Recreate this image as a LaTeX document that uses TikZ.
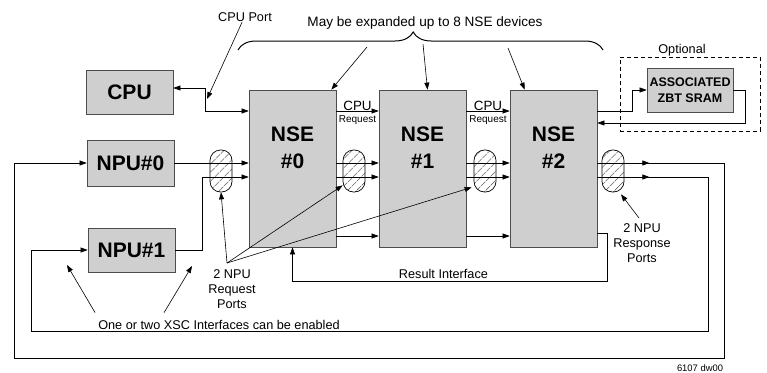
\documentclass[tikz,border=0pt]{standalone}
\usepackage{fontspec}
\setmainfont{Liberation Sans}
\usetikzlibrary{arrows.meta,calc,positioning,patterns.meta,decorations.pathreplacing}

\tikzset{
  unitbox/.style={draw=black!70, fill=black!19, line width=0.7pt, inner sep=0pt,
    font=\fontsize{21}{24}\selectfont\bfseries},
  nsetext/.style={inner sep=0pt, align=center, font=\fontsize{21}{27}\selectfont\bfseries},
  sramblock/.style={unitbox, align=center, font=\fontsize{12.5}{16}\selectfont\bfseries},
  optbox/.style={draw, dashed, line width=0.6pt, dash pattern=on 4pt off 3pt},
  portring/.style={draw, line width=0.7pt, rounded corners=10.5pt, minimum width=22pt,
    minimum height=42pt, pattern={Lines[angle=45,distance=6.5pt,line width=0.7pt]}},
  lbl/.style={inner sep=0pt, font=\fontsize{12.7}{15}\selectfont},
  sublbl/.style={inner sep=0pt, font=\fontsize{10}{12}\selectfont},
  wire/.style={line width=0.6pt},
  >={Triangle[length=7pt,width=5pt]}
}

\begin{document}
\begin{tikzpicture}[x=1pt,y=-1pt]
\useasboundingbox (0,0) rectangle (767,372);

% processors
\node [unitbox, minimum width=87pt, minimum height=44pt] (cpu)  at (129.5,92)  {CPU};
\node [unitbox, minimum width=87pt, minimum height=46pt] (npu0) at (130.5,163) {NPU\#0};
\node [unitbox, minimum width=87pt, minimum height=44pt] (npu1) at (131.5,250) {NPU\#1};

% search engines
\node [unitbox, minimum width=87pt, minimum height=157pt] (nse0) at (292.5,168.5) {};
\node [unitbox, minimum width=87pt, minimum height=157pt] (nse1) at (422.5,168.5) {};
\node [unitbox, minimum width=87pt, minimum height=157pt] (nse2) at (553.5,168.5) {};
\node [nsetext] (nse0t) at ($(nse0.north)+(0,58)$) {NSE\\\#0};
\node [nsetext] (nse1t) at ($(nse1.north)+(0,58)$) {NSE\\\#1};
\node [nsetext] (nse2t) at ($(nse2.north)+(0,58)$) {NSE\\\#2};

% optional sram
\node [optbox, minimum width=140pt, minimum height=74pt] (opt) at (690,94) {};
\node [sramblock, minimum width=86pt, minimum height=44pt] (sram) at (690,90) {ASSOCIATED\\ZBT SRAM};
\node [lbl, anchor=base] (optlbl) at (682,53) {Optional};

% port rings
\node [portring] (p0) at (221,171) {};
\node [portring] (p1) at (354,171) {};
\node [portring] (p2) at (485,171) {};
\node [portring] (p3) at (613,171) {};

\coordinate (rowcpu) at (0,111);
\coordinate (rowa) at (0,163);
\coordinate (rowb) at (0,177);
\coordinate (rowc) at (0,236);

% cpu port
\coordinate (cpuport) at (205,88);
\draw [wire, <->] (cpu.east |- cpuport) -- (cpuport) |- (nse0.west |- rowcpu);
\draw [wire, ->] (nse0.east |- rowcpu) -- (nse1.west |- rowcpu)
  node [midway, above=0.5pt, lbl, font=\fontsize{13.4}{15}\selectfont] {CPU}
  node [midway, below=4pt, sublbl] {Request};
\draw [wire, ->] (nse1.east |- rowcpu) -- (nse2.west |- rowcpu)
  node [midway, above=0.5pt, lbl, font=\fontsize{13.4}{15}\selectfont] {CPU}
  node [midway, below=4pt, sublbl] {Request};

% sram
\coordinate (sramret) at (745,123);
\draw [wire, ->] (nse2.east |- rowcpu) -- ++(35,0) |- (sram.west);
\draw [wire, ->] (sram.east) -| (sramret) -- (nse2.east |- sramret);

% first npu ports
\coordinate (outer) at (724,358);
\coordinate (outerl) at (14,358);
\draw [wire, ->] (npu0.east) -- (nse0.west |- rowa);
\draw [wire, ->] (nse0.east |- rowa) -- (nse1.west |- rowa);
\draw [wire, ->] (nse1.east |- rowa) -- (nse2.west |- rowa);
\draw [wire, ->] (nse2.east |- rowa) -- ++(52,0);
\draw [wire, ->] (nse2.east |- rowa) -| (outer) -- (outerl) |- (npu0.west);

% second npu ports
\coordinate (inner) at (708,331);
\coordinate (innerl) at (31,331);
\draw [wire, ->] (npu1.east) -- ++(27,0) |- (nse0.west |- rowb);
\draw [wire, ->] (nse0.east |- rowb) -- (nse1.west |- rowb);
\draw [wire, ->] (nse1.east |- rowb) -- (nse2.west |- rowb);
\draw [wire, ->] (nse2.east |- rowb) -- ++(52,0);
\draw [wire, ->] (nse2.east |- rowb) -| (inner) -- (innerl) |- (npu1.west);

% result interface
\coordinate (result) at (607,281);
\draw [wire, ->] (nse0.east |- rowc) -- (nse1.west |- rowc);
\draw [wire, ->] (nse1.east |- rowc) -- (nse2.west |- rowc);
\draw [wire, ->] ($(nse2.east |- rowc)+(0,-3)$) -| (result) -| (nse0.south)
  node [lbl, pos=0.26, above=2pt] {Result Interface};

% labels
\node [lbl, anchor=base] (cpuportlbl) at (245,21) {CPU Port};
\coordinate (cpuporttip) at (207,99);
\draw [wire, ->] ($(cpuportlbl.south)+(-3,1)$) -- (cpuporttip);

\coordinate (bracel) at (238,50);
\coordinate (bracer) at (603,50);
\draw [line width=1pt, decorate, decoration={brace, amplitude=18pt, aspect=0.48}] (bracel) -- (bracer);
\node [lbl, anchor=base, font=\fontsize{13.6}{16}\selectfont] (expandlbl) at (425,26) {May be expanded up to 8 NSE devices};
\coordinate (bra0) at (367,47);
\coordinate (bra1) at (423,44);
\coordinate (bra2) at (508,48);
\draw [wire, ->] (bra0) -- ($(nse0.north east)+(-5,0)$);
\draw [wire, ->] (bra1) -- ($(nse1.north)+(5,0)$);
\draw [wire, ->] (bra2) -- ($(nse2.north west)+(15,0)$);

\node [lbl, anchor=north, align=center] (reqlbl) at (232,269) {2 NPU\\Request\\Ports};
\coordinate (reqapex) at ($(reqlbl.north)+(-5,-6)$);
\draw [wire, ->] (reqapex) -- (p0.south);
\draw [wire, ->] (reqapex) -- ($(p1.south west)+(0,-7)$);
\draw [wire, ->] (reqapex) -- ($(p2.south west)+(-2,-5)$);

\node [lbl, anchor=north, align=center] (resplbl) at (642,223) {2 NPU\\Response\\Ports};
\draw [wire, ->] ($(resplbl.north)+(-3,-5)$) -- ($(p3.south)+(8,2)$);

\node [lbl, anchor=base] (xsclbl) at (219,329) {One or two XSC Interfaces can be enabled};
\coordinate (xsctip0) at (67,265);
\coordinate (xsctip1) at (192,266);
\draw [wire, ->] ($(xsclbl.north west)+(-3,-7)$) -- (xsctip0);
\draw [wire, ->] ($(xsclbl.north west)+(66,-7)$) -- (xsctip1);

\node [lbl, anchor=base, font=\fontsize{9.4}{11}\selectfont] (figid) at (700,371) {6107 dw00};

\end{tikzpicture}
\end{document}
